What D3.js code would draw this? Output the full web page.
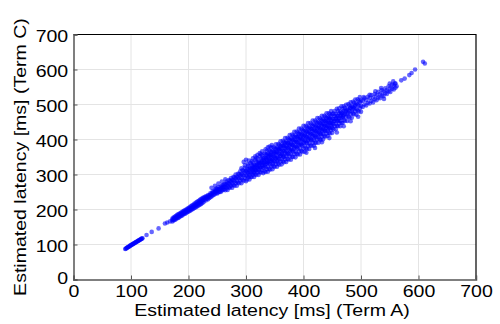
<!DOCTYPE html>
<html>
<head>
<meta charset="utf-8">
<script src="https://cdn.jsdelivr.net/npm/d3@7"></script>
<style>
  body { margin: 0; background: #fff; }
  svg { display: block; font-family: "Liberation Sans", Arial, sans-serif; }
</style>
</head>
<body>
<svg width="500" height="324"></svg>
<script>
// tick values, shared by both axes
const ticks = [0, 100, 200, 300, 400, 500, 600, 700];

// samples, Term A latency vs Term C latency (ms)
// pairs: [termA, termC]
const lowCluster = [
  [90,87],[91,88],[92,90],[93,90],[94,92],[95,93],[96,93],[97,95],[98,96],[99,97],
  [100,98],[101,99],[102,100],[103,101],[104,102],[105,103],[106,104],[107,105],[108,106],[109,107],
  [110,108],[111,109],[112,110],[113,111],[114,112],[115,113],[116,114],[117,115],[118,116],[119,117],[120,118]
];
const sparseLow = [[127,127],[136,136],[148,146],[159,160],[163,163],[168,166]];

// columns: [termA, termC values seen at that termA...]
const midColumns = [
  [172,166,170,174],[174,169,173,177],[176,170,175,179],[178,172,176,181],[180,175,179,184],
  [182,176,181,186],[184,178,183,188],[186,181,185,190],[188,182,187,192],[190,184,189,194],
  [192,187,191,196],[194,188,193,198],[196,190,195,200],[198,193,197,202],[200,194,199,204],
  [202,196,201,206],[204,198,203,209],[206,200,205,211],[208,202,207,213],[210,204,210,216],
  [212,206,212,218],[214,208,214,221],[216,210,216,223],[218,212,219,225],[220,214,221,228],
  [222,216,223,230],[224,219,225,232],[226,221,228,234],[228,228,235],[230,226,233,238],
  [232,231,237],[234,229,236,241],[236,233,240],[238,235,242,246],[240,237,244],
  [242,240,247,252],[244,242,250],[246,244,251,256],[248,247,254,260],[250,246,253,259],
  [252,249,257,264],[254,251,259],[256,250,257,264],[258,254,262,268],[260,256,263,270],
  [262,258,265,272]
];
const bandColumns = [
  [264,255,265,273],[266,261,271,280],[268,256,266,275],[270,263,274,284],[272,262,273,283],
  [274,268,280,290],[276,262,274,284],[278,270,283,293],[280,268,281,292],[282,275,289,300],
  [284,268,281,293],[286,277,291,302],[288,275,289,301],[290,283,297,309],[292,275,289,301],
  [294,285,299,312],[296,282,297,310],[298,290,306,319],[300,281,297,310],
  [302,286,297,307,317],[304,292,304,314,325],[306,286,298,308,319],[308,293,305,316,332],
  [310,293,305,316,327],[312,299,312,323,334],[314,293,305,316,327],[316,300,313,325,342],
  [318,299,313,324,336],[320,306,320,332,344],[322,299,312,324,336],[324,307,321,333,352],
  [326,306,320,333,345],[328,313,328,341,354],[330,304,319,333,346],
  [332,309,324,336,348,360],[334,307,321,335,347,358],[336,315,331,343,356,368],
  [338,308,322,334,347,359],[340,316,332,344,357,369],[342,314,329,343,356,367],
  [344,323,339,351,364,377],[346,315,329,342,355,368],[348,323,339,352,365,378],
  [350,322,337,351,364,375],[352,330,346,360,373,386],[354,322,337,350,363,376],
  [356,331,347,360,374,387],[358,328,344,359,373,385],[360,337,354,368,381,395],
  [362,329,344,358,372,385],[364,338,355,368,382,396],[366,335,351,367,381,393],
  [368,344,362,376,390,404],[370,336,352,366,380,394],[372,344,362,377,391,405],
  [374,343,359,375,389,402],[376,352,370,384,399,413],[378,342,359,373,388,403],
  [380,351,370,385,400,414],[382,350,366,383,398,411],[384,359,378,392,407,422],
  [386,349,366,381,397,412],[388,359,378,393,408,423],[390,357,374,391,406,420],
  [392,366,385,401,416,431],[394,357,374,389,405,420],[396,367,386,401,416,431],
  [398,365,382,399,414,428],[400,374,393,409,424,439],[402,365,382,397,413,428],
  [404,375,394,409,424,439],[406,373,390,407,422,436],[408,382,401,417,432,447],
  [410,373,390,405,421,436],[412,383,402,417,432,447],[414,382,398,415,430,443],
  [416,391,410,424,439,454],[418,382,399,413,428,443],[420,391,410,425,440,454],
  [422,391,407,423,437,450],[424,400,418,432,447,461],[426,391,407,422,436,450],
  [428,401,418,433,447,461],[430,399,415,431,445,457],[432,408,426,440,454,468],
  [434,400,416,430,444,458],[436,410,427,440,454,468],[438,408,424,439,453,465],
  [440,417,434,448,461,475],[442,410,425,438,451,464],[444,419,435,448,462,475],
  [446,417,432,447,460,472],[448,427,443,455,468,481],[450,419,433,446,459,472],
  [452,429,445,459,474],[454,438,453,467,481],[456,429,445,459,473],[458,439,454,468,488],
  [460,438,453,467,481],[462,446,461,475,489],[464,438,453,467,480],[466,448,463,476,495],
  [468,447,462,475,488],[470,456,470,482,495],
  [472,453,473,490],[474,464,483,499],[476,453,472,488],[478,465,484,501],[480,463,481,497],
  [482,473,491,506],[484,462,480,495],[486,474,492,508],[488,472,489,504],[490,481,499,514],
  [492,471,488,503],[494,483,500,515],[496,480,497,511],[498,489,506,521],[500,479,496,511],
  [503,493,511],[506,500,518],[509,497,512],[512,505,522],[515,503,518],[518,510,527],
  [521,506,520],[524,515,530],[527,512,526],[530,520,536],[533,518,530],[536,526,541],
  [539,524,537],[542,532,546],[545,530,541],[548,538,552],[551,536,548],[554,545,557],
  [557,543,554],[560,548,560]
];
// extra samples in the densest part of the cloud
const coreFill = [
  [311,318],[313,306],[315,322],[317,311],[319,327],[321,316],[323,332],[325,320],[327,337],[329,326],
  [331,340],[333,328],[335,346],[337,335],[339,352],[341,338],[343,356],[345,344],[347,333],[349,360],
  [351,347],[353,365],[355,340],[357,370],[359,352],[361,377],[363,362],[365,350],[367,384],[369,372],
  [371,358],[373,389],[375,380],[377,366],[379,395],[381,384],[383,372],[385,402],[387,392],[389,380],
  [391,410],[393,398],[395,385],[397,412],[399,403],[401,390],[403,418],[405,406],[407,395],[409,425],
  [411,412],[413,400],[415,430],[417,418],[419,405],[421,434],[423,424],[425,412],[427,440],[429,428],
  [431,418],[433,447],[435,436],[437,425],[439,452],[441,441],[443,430],[445,458],[447,447],[449,438],
  [453,452],[457,462],[461,456],[465,472],[469,466],[473,480],[477,476],[481,490],[485,486],[489,494]
];
const upperFringe = [
  [240,262],[246,268],[252,274],[258,280],[264,286],[292,318],[296,336],[298,326],[300,342],
  [303,330],[305,340],[310,338],[312,346],[316,352],[318,348],[320,356],[324,361],[326,358],
  [328,366],[334,372],[338,378],[341,380],[345,384]
];
const lowerFringe = [
  [405,362],[420,376],[432,392],[445,404],[458,420],[470,438],[482,452],[495,465],
  [505,521],[515,528],[525,538],[535,547],[540,516],[550,560],[556,566],[559,560],[562,552]
];
const tail = [
  [570,569],[576,574],[584,584],[588,590],[594,600],[608,622],[611,617]
];

const columnPoints = cols => cols.flatMap(c => c.slice(1).map(v => [c[0], v]));
const samples = [].concat(lowCluster, sparseLow, columnPoints(midColumns),
  columnPoints(bandColumns), coreFill, upperFringe, lowerFringe, tail);

const svg = d3.select("svg");
const plotLeft = 73.5, plotRight = 476, plotTop = 34.5, plotBottom = 279.5;
const fontSize = 17, stretch = 1.15;

const x = d3.scaleLinear().domain([0, 700]).range([plotLeft, plotRight]);
const y = d3.scaleLinear().domain([0, 700]).range([plotBottom, plotTop]);

// grid
svg.append("g")
    .selectAll("line")
    .data(ticks.slice(1, -1))
    .join("line")
    .attr("x1", d => x(d)).attr("x2", d => x(d))
    .attr("y1", plotTop).attr("y2", plotBottom)
    .attr("stroke", "#e4e4e4").attr("stroke-width", 1);
svg.append("g")
    .selectAll("line")
    .data(ticks.slice(1, -1))
    .join("line")
    .attr("y1", d => y(d)).attr("y2", d => y(d))
    .attr("x1", plotLeft).attr("x2", plotRight)
    .attr("stroke", "#e4e4e4").attr("stroke-width", 1);

// points
svg.append("g")
    .selectAll("circle")
    .data(samples)
    .join("circle")
    .attr("cx", d => x(d[0]))
    .attr("cy", d => y(d[1]))
    .attr("r", 2.3)
    .attr("fill", "#0000ff")
    .attr("fill-opacity", 0.6);

// frame: top and right black
svg.append("path")
    .attr("d", `M${plotLeft},${plotTop}H${plotRight}V${plotBottom}`)
    .attr("fill", "none").attr("stroke", "#000").attr("stroke-width", 1.2);

// axes
const xAxis = svg.append("g")
    .attr("transform", `translate(0,${plotBottom})`)
    .call(d3.axisBottom(x).tickValues(ticks).tickSize(-4).tickFormat(d3.format("d")));
const yAxis = svg.append("g")
    .attr("transform", `translate(${plotLeft},0)`)
    .call(d3.axisLeft(y).tickValues(ticks).tickSize(-4).tickFormat(d3.format("d")));

[xAxis, yAxis].forEach(g => {
  g.select(".domain").attr("stroke", "#555").attr("stroke-width", 1.5);
  g.selectAll(".tick line").attr("stroke", "#555");
  g.selectAll("text")
      .attr("font-size", fontSize).attr("fill", "#000")
      .attr("font-family", '"Liberation Sans", Arial, sans-serif')
      .attr("transform", `scale(${stretch},1)`);
});
xAxis.selectAll("text").attr("y", 17.5).attr("dy", 0);
yAxis.selectAll("text").attr("x", -4.6).attr("dy", "0.42em");
yAxis.selectAll(".tick").filter(d => d === 0).select("text").attr("dy", "0.22em");

// axis titles
svg.append("text")
    .attr("transform", `translate(272,316) scale(${stretch},1)`)
    .attr("text-anchor", "middle")
    .attr("font-size", fontSize)
    .text("Estimated latency [ms] (Term A)");
svg.append("text")
    .attr("transform", `translate(26,157) rotate(-90) scale(${stretch},1)`)
    .attr("text-anchor", "middle")
    .attr("font-size", fontSize)
    .text("Estimated latency [ms] (Term C)");
</script>
</body>
</html>
